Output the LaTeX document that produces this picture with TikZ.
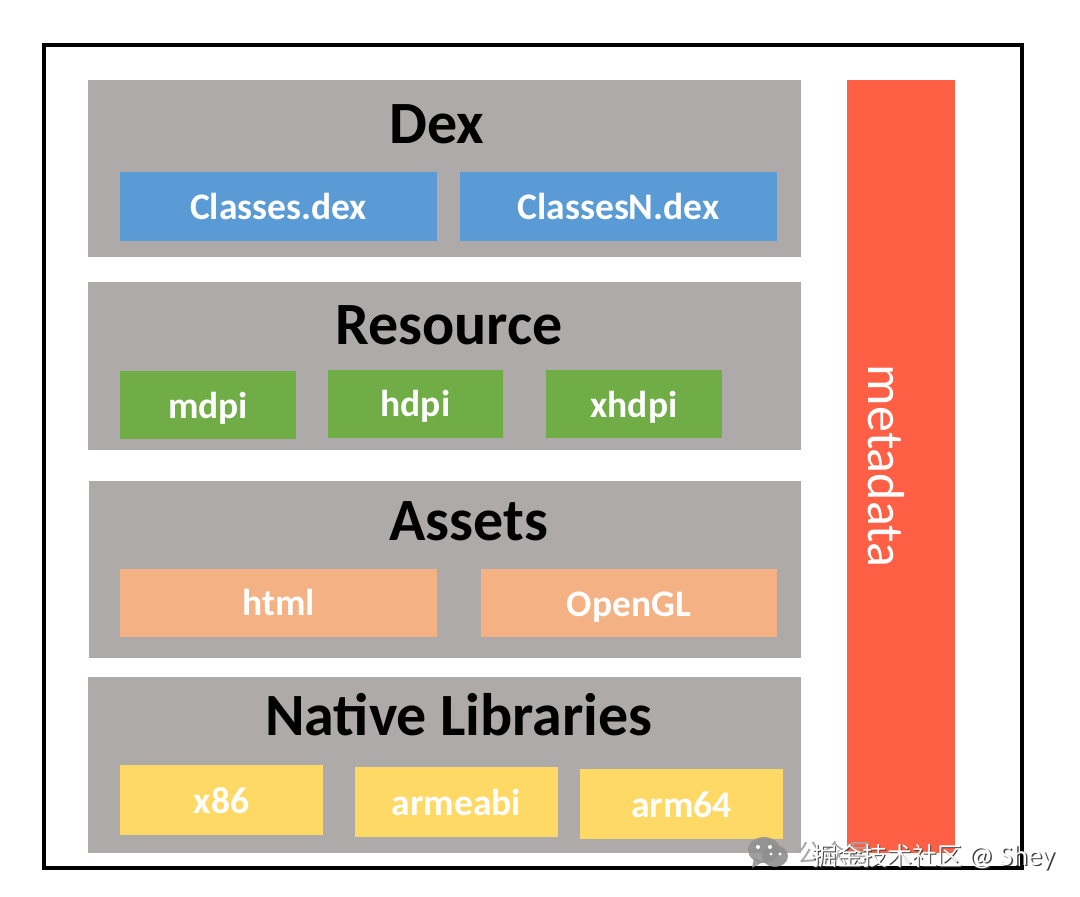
\documentclass[tikz,border=0pt]{standalone}
\usepackage{fontspec}
\setmainfont{Carlito}
\newfontfamily\cjk{Noto Sans CJK SC}
\definecolor{greybg}{HTML}{AEAAAA}
\definecolor{bluebx}{HTML}{5B9BD5}
\definecolor{greenbx}{HTML}{70AD47}
\definecolor{orangebx}{HTML}{F4B183}
\definecolor{yellowbx}{HTML}{FFD966}
\definecolor{redbx}{HTML}{FF6045}
\definecolor{markgrey}{HTML}{8F8F8F}
\tikzset{
 px/.style={x=1pt,y=-1pt},
 panel/.style={fill=greybg,draw=none},
 inner/.style={draw=none,text=white,font=\bfseries\fontsize{37.5}{42}\selectfont,inner sep=0pt,text height=27pt,text depth=1pt},
 head/.style={text=black,font=\bfseries\fontsize{60}{66}\selectfont,inner sep=0pt},
 markmain/.style={font=\cjk\fontsize{25}{28}\selectfont,inner sep=0pt,anchor=west},
}
\newcommand{\marklatin}{{\normalfont\fontsize{28.5}{32}\selectfont @ Shey}}
\begin{document}
\begin{tikzpicture}[px]
\useasboundingbox (0,0) rectangle (1080,897);
\fill[white] (0,0) rectangle (1080,897);
\draw[line width=4pt,black] (43.5,45) rectangle (1022,868);
\fill[panel] (88,80) rectangle (801,257);
\fill[panel] (88,282) rectangle (801,450);
\fill[panel] (89,481) rectangle (801,658);
\fill[panel] (88,677) rectangle (801,853);
\node[head] (dex) at (437,124) {Dex};
\node[head] (res) at (449,325) {Resource};
\node[head] (ast) at (469,521) {Assets};
\node[head] (nat) at (459,715) {Native Libraries};
\node[inner,fill=bluebx,minimum width=317pt,minimum height=69pt] (c1) at (278.5,206.5) {Classes.dex};
\node[inner,fill=bluebx,minimum width=317pt,minimum height=69pt] (c2) at (618.5,206.5) {ClassesN.dex};
\node[inner,fill=greenbx,minimum width=176pt,minimum height=68pt] (m) at (208,405) {mdpi};
\node[inner,fill=greenbx,minimum width=175pt,minimum height=68pt] (h) at (415.5,403.5) {hdpi};
\node[inner,fill=greenbx,minimum width=176pt,minimum height=68pt] (x) at (634,404) {xhdpi};
\node[inner,fill=orangebx,minimum width=317pt,minimum height=68pt] (html) at (278.5,602.5) {html};
\node[inner,fill=orangebx,minimum width=296pt,minimum height=68pt] (gl) at (629,603) {OpenGL};
\node[inner,fill=yellowbx,minimum width=203pt,minimum height=70pt] (x86) at (221.5,800) {x86};
\node[inner,fill=yellowbx,minimum width=203pt,minimum height=70pt] (armeabi) at (456.5,802) {armeabi};
\node[inner,fill=yellowbx,minimum width=203pt,minimum height=70pt] (arm64) at (681.5,804) {arm64};
\fill[redbx] (847,80) rectangle (955,853);
\node[rotate=-90,text=white,font=\fontsize{52}{60}\selectfont,inner sep=0pt] (meta) at (886,466) {metadata};
% watermark
\fill[markgrey,opacity=.85] (764,850) ellipse (16pt and 13pt);
\fill[markgrey,opacity=.85] (754,858) -- (752,868) -- (763,862) -- cycle;
\fill[markgrey,opacity=.9] (775,856) ellipse (13pt and 11pt);
\fill[white] (758,847) circle (2pt) (770,847) circle (2pt) (771,854) circle (1.6pt) (780,854) circle (1.6pt);
\node[markmain,text=gray!70] (markb) at (797,853) {公众号};
\node[markmain,text=black!75] (marks) at (813.5,858.5) {掘金技术社区 \marklatin};
\node[markmain,text=white] (markt) at (812,857) {掘金技术社区 \marklatin};
\end{tikzpicture}
\end{document}
